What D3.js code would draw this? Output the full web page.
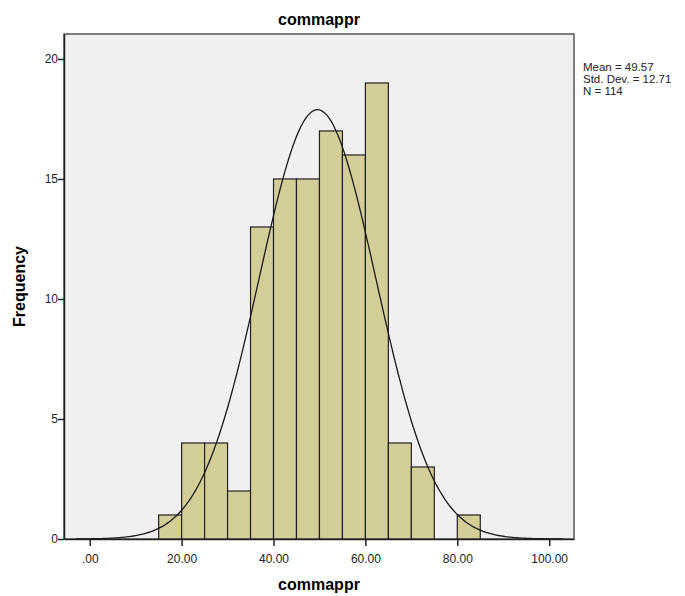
<!DOCTYPE html>
<html>
<head>
<meta charset="utf-8">
<script src="https://cdn.jsdelivr.net/npm/d3@7"></script>
<style>
  body { margin: 0; background: #fff; }
  text { font-family: "Liberation Sans", Arial, sans-serif; }
</style>
</head>
<body>
<svg id="chart" width="685" height="596"></svg>
<script>
// histogram data (bin start, frequency), bin width 5
var binStarts = [15, 20, 25, 30, 35, 40, 45, 50, 55, 60, 65, 70, 75, 80];
var counts = [1, 4, 4, 2, 13, 15, 15, 17, 16, 19, 4, 3, 0, 1];
var binWidth = 5;
var xTicks = [0, 20, 40, 60, 80, 100];
var yTicks = [0, 5, 10, 15, 20];
var statMean = 49.57, statSd = 12.71, statN = 114;
var statLines = ["Mean = 49.57", "Std. Dev. = 12.71", "N = 114"];

var svg = d3.select("#chart");
// plot frame (note: "top" is reserved on window, so use other names)
var pLeft = 64, pRight = 574, pTop = 34, pBottom = 539;

var x = d3.scaleLinear().domain([-5.6, 105.4]).range([pLeft, pRight]);
var y = d3.scaleLinear().domain([0, 21.04]).range([pBottom, pTop]);

// plot background
svg.append("rect")
  .attr("x", pLeft).attr("y", pTop)
  .attr("width", pRight - pLeft).attr("height", pBottom - pTop)
  .attr("fill", "#f0f0f0")
  .attr("stroke", "#555").attr("stroke-width", 1.5);

// bars
svg.selectAll("rect.bar")
  .data(binStarts.map(function(d, i) { return {x0: d, n: counts[i]}; }).filter(function(d) { return d.n > 0; }))
  .enter().append("rect")
  .attr("class", "bar")
  .attr("x", function(d) { return x(d.x0); })
  .attr("y", function(d) { return y(d.n); })
  .attr("width", function(d) { return x(d.x0 + binWidth) - x(d.x0); })
  .attr("height", function(d) { return y(0) - y(d.n); })
  .attr("fill", "#d3ce97")
  .attr("stroke", "#222").attr("stroke-width", 1.2);

// normal curve from the reported mean / sd
var scale = statN * binWidth / (statSd * Math.sqrt(2 * Math.PI));
var curveX = d3.range(-3, 103.01, 0.5);
var line = d3.line()
  .x(function(d) { return x(d); })
  .y(function(d) { return y(scale * Math.exp(-0.5 * Math.pow((d - statMean) / statSd, 2))); })
  .curve(d3.curveBasis);
svg.append("path")
  .datum(curveX)
  .attr("d", line)
  .attr("fill", "none")
  .attr("stroke", "#1a1a1a").attr("stroke-width", 1.3);

// axes
var xAxis = svg.append("g")
  .attr("transform", "translate(0," + pBottom + ")")
  .call(d3.axisBottom(x).tickValues(xTicks).tickSize(7).tickSizeOuter(0)
        .tickFormat(function(d) { return d === 0 ? ".00" : d3.format(".2f")(d); }));
xAxis.select(".domain").attr("stroke", "#222").attr("stroke-width", 1.5);
xAxis.selectAll(".tick line").attr("stroke", "#222").attr("stroke-width", 1.5);
xAxis.selectAll("text").attr("font-size", "12px").attr("fill", "#222").attr("dy", "1.2em");

var yAxis = svg.append("g")
  .attr("transform", "translate(" + pLeft + ",0)")
  .call(d3.axisLeft(y).tickValues(yTicks).tickSize(6).tickSizeOuter(0));
yAxis.select(".domain").attr("stroke", "#222").attr("stroke-width", 1.5);
yAxis.selectAll(".tick line").attr("stroke", "#222").attr("stroke-width", 1.5);
yAxis.selectAll("text").attr("font-size", "12px").attr("fill", "#222").attr("x", -6);

// title and axis labels
svg.append("text")
  .attr("x", (pLeft + pRight) / 2).attr("y", 25)
  .attr("text-anchor", "middle")
  .attr("font-size", "16px").attr("font-weight", "bold")
  .text("commappr");

svg.append("text")
  .attr("x", (pLeft + pRight) / 2).attr("y", 590)
  .attr("text-anchor", "middle")
  .attr("font-size", "16px").attr("font-weight", "bold")
  .text("commappr");

svg.append("text")
  .attr("transform", "translate(25," + ((pTop + pBottom) / 2) + ") rotate(-90)")
  .attr("text-anchor", "middle")
  .attr("font-size", "16px").attr("font-weight", "bold")
  .text("Frequency");

// stats box text
svg.append("g").selectAll("text")
  .data(statLines)
  .enter().append("text")
  .attr("x", 583)
  .attr("y", function(d, i) { return 71 + i * 12; })
  .attr("font-size", "11.5px").attr("fill", "#222")
  .text(function(d) { return d; });
</script>
</body>
</html>
